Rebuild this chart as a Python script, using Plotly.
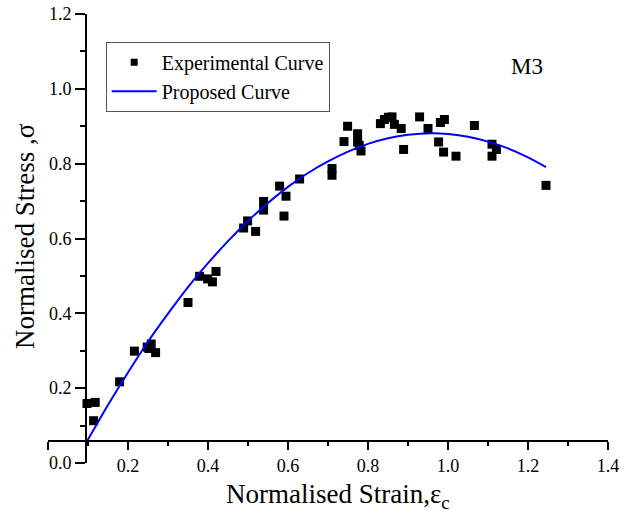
import plotly.graph_objects as go

# Experimental stress-strain points (normalised)
exp_strain = [0.0975, 0.118, 0.114, 0.179, 0.216, 0.248, 0.258, 0.269, 0.252,
              0.350, 0.379, 0.399, 0.411, 0.420, 0.489, 0.499, 0.519, 0.539,
              0.539, 0.579, 0.595, 0.590, 0.629, 0.710, 0.710, 0.740, 0.749,
              0.774, 0.774, 0.7825, 0.778, 0.831, 0.841, 0.860, 0.866, 0.883,
              0.889, 0.851, 0.929, 0.950, 0.981, 0.991, 0.9765, 0.989, 1.020,
              1.066, 1.110, 1.121, 1.110, 1.245]
exp_stress = [0.159, 0.162, 0.113, 0.217, 0.299, 0.310, 0.318, 0.295, 0.306,
              0.429, 0.499, 0.492, 0.484, 0.512, 0.628, 0.647, 0.619, 0.699,
              0.676, 0.740, 0.713, 0.660, 0.759, 0.787, 0.769, 0.859, 0.900,
              0.880, 0.858, 0.834, 0.849, 0.907, 0.918, 0.925, 0.905, 0.894,
              0.838, 0.924, 0.925, 0.894, 0.910, 0.918, 0.858, 0.831, 0.820,
              0.902, 0.852, 0.838, 0.820, 0.742]

# Proposed model curve
model_strain = [0.098, 0.15, 0.20, 0.25, 0.30, 0.35, 0.40, 0.45, 0.50, 0.55,
                0.60, 0.65, 0.70, 0.75, 0.80, 0.85, 0.90, 0.96, 1.00, 1.05,
                1.10, 1.15, 1.20, 1.245]
model_stress = [0.059, 0.155, 0.242, 0.324, 0.399, 0.470, 0.534, 0.593, 0.647,
                0.695, 0.738, 0.775, 0.806, 0.832, 0.853, 0.868, 0.877, 0.881,
                0.879, 0.872, 0.859, 0.841, 0.817, 0.791]

x_ticks = [0.0, 0.2, 0.4, 0.6, 0.8, 1.0, 1.2, 1.4]
x_ticktext = ["", "0.2", "0.4", "0.6", "0.8", "1.0", "1.2", "1.4"]
y_ticks = [0.0, 0.2, 0.4, 0.6, 0.8, 1.0, 1.2]
y_ticktext = ["0.0", "0.2", "0.4", "0.6", "0.8", "1.0", "1.2"]

FONT = "Liberation Serif, Times New Roman, serif"

fig = go.Figure()

fig.add_trace(go.Scatter(
    x=exp_strain, y=exp_stress, mode="markers",
    marker=dict(symbol="square", size=9, color="black"),
    showlegend=False, name="Experimental Curve"))

# legend entry with a smaller symbol
fig.add_trace(go.Scatter(
    x=[None], y=[None], mode="markers",
    marker=dict(symbol="square", size=7, color="black"),
    name="Experimental Curve"))

fig.add_trace(go.Scatter(
    x=model_strain, y=model_stress, mode="lines",
    line=dict(color="#0000ff", width=2, shape="spline"),
    name="Proposed Curve"))

axis_common = dict(
    showline=True, linecolor="black", linewidth=2,
    ticks="outside", tickwidth=2, tickcolor="black",
    showgrid=False, zeroline=False, automargin=False,
    tickfont=dict(family=FONT, size=18, color="black"),
)

fig.update_layout(
    width=632, height=515,
    margin=dict(l=48, r=24, t=14, b=52),
    paper_bgcolor="white", plot_bgcolor="white",
    font=dict(family=FONT, color="black"),
    xaxis=dict(
        range=[0, 1.4], domain=[0, 1], anchor="free", position=0.049,
        tickvals=x_ticks, ticktext=x_ticktext, ticklen=8,
        minor=dict(tickvals=[0.1, 0.3, 0.5, 0.7, 0.9, 1.1, 1.3], ticklen=4,
                   ticks="outside", tickwidth=2, tickcolor="black", showgrid=False),
        **axis_common),
    yaxis=dict(
        range=[0, 1.2], domain=[0, 1], anchor="free", position=0.068,
        tickvals=y_ticks, ticktext=y_ticktext, ticklen=10,
        minor=dict(tickvals=[0.1, 0.3, 0.5, 0.7, 0.9, 1.1], ticklen=5,
                   ticks="outside", tickwidth=2, tickcolor="black", showgrid=False),
        **axis_common),
    legend=dict(
        x=0.103, y=0.938, xanchor="left", yanchor="top",
        bgcolor="white", bordercolor="#555555", borderwidth=1,
        font=dict(family=FONT, size=20, color="black"),
        itemwidth=45, tracegroupgap=0),
    annotations=[
        dict(text="Normalised Strain,ε<sub>c</sub>", xref="paper", yref="paper",
             x=0.518, y=-0.0735, xanchor="center", yanchor="middle",
             showarrow=False, font=dict(family=FONT, size=27, color="black")),
        dict(text="Normalised Stress ,σ", xref="paper", yref="paper",
             x=-0.041, y=0.5056, xanchor="center", yanchor="middle",
             textangle=-90, showarrow=False,
             font=dict(family=FONT, size=27, color="black")),
        dict(text="M3", xref="paper", yref="paper",
             x=0.855, y=0.884, xanchor="center", yanchor="middle",
             showarrow=False, font=dict(family=FONT, size=23, color="black")),
    ],
)

fig.write_html("out.html")
